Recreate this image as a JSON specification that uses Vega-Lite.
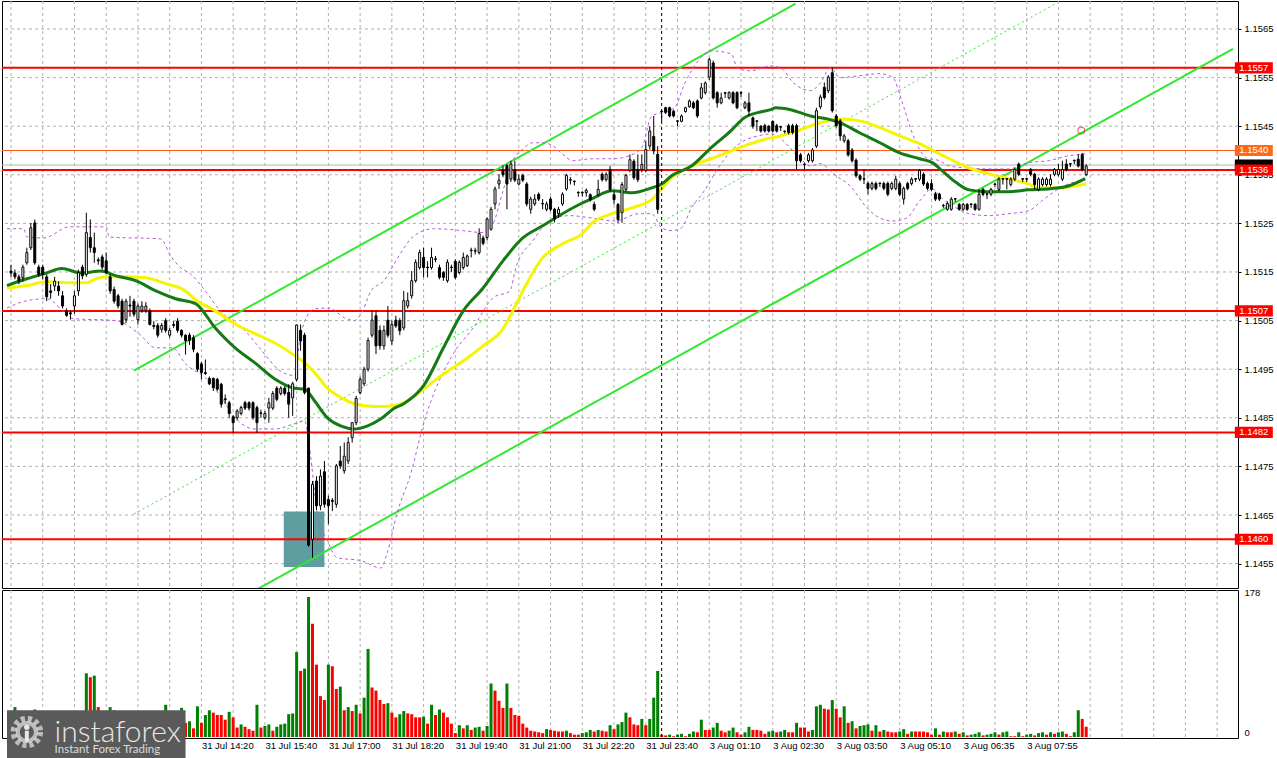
{
  "$schema": "https://vega.github.io/schema/vega-lite/v6.json",
  "padding": 0,
  "spacing": 2,
  "bounds": "flush",
  "background": "white",
  "config": {
    "view": {"stroke": "black", "strokeWidth": 1},
    "font": "Liberation Sans"
  },
  "datasets": {
    "candles": [
      {"i":0,"o":1.15152,"h":1.15165,"l":1.1514,"c":1.15148,"v":30},
      {"i":1,"o":1.15148,"h":1.15155,"l":1.15135,"c":1.1514,"v":38},
      {"i":2,"o":1.1514,"h":1.15145,"l":1.15125,"c":1.15131,"v":18},
      {"i":3,"o":1.15138,"h":1.15165,"l":1.1513,"c":1.1516,"v":22},
      {"i":4,"o":1.15169,"h":1.152,"l":1.15165,"c":1.1519,"v":25},
      {"i":5,"o":1.152,"h":1.15251,"l":1.15195,"c":1.15241,"v":28},
      {"i":6,"o":1.15251,"h":1.15258,"l":1.15165,"c":1.15169,"v":35},
      {"i":7,"o":1.1516,"h":1.15165,"l":1.1514,"c":1.15145,"v":20},
      {"i":8,"o":1.1516,"h":1.15165,"l":1.15135,"c":1.15145,"v":15},
      {"i":9,"o":1.1514,"h":1.15145,"l":1.1509,"c":1.15099,"v":26},
      {"i":10,"o":1.15111,"h":1.15125,"l":1.15095,"c":1.15108,"v":12},
      {"i":11,"o":1.15121,"h":1.1514,"l":1.15111,"c":1.15131,"v":14},
      {"i":12,"o":1.15121,"h":1.15131,"l":1.15101,"c":1.15111,"v":10},
      {"i":13,"o":1.15101,"h":1.15111,"l":1.15075,"c":1.1508,"v":18},
      {"i":14,"o":1.1507,"h":1.15075,"l":1.15058,"c":1.15061,"v":12},
      {"i":15,"o":1.15066,"h":1.1507,"l":1.15052,"c":1.15064,"v":9},
      {"i":16,"o":1.1508,"h":1.15111,"l":1.15064,"c":1.15101,"v":16},
      {"i":17,"o":1.15111,"h":1.15155,"l":1.15101,"c":1.15149,"v":24},
      {"i":18,"o":1.1516,"h":1.15165,"l":1.15135,"c":1.15142,"v":20},
      {"i":19,"o":1.15145,"h":1.15272,"l":1.1514,"c":1.15231,"v":81},
      {"i":20,"o":1.15221,"h":1.15258,"l":1.1519,"c":1.152,"v":76},
      {"i":21,"o":1.152,"h":1.15231,"l":1.15169,"c":1.1519,"v":78},
      {"i":22,"o":1.15175,"h":1.1518,"l":1.15165,"c":1.15173,"v":38},
      {"i":23,"o":1.15181,"h":1.15186,"l":1.15155,"c":1.1516,"v":22},
      {"i":24,"o":1.15173,"h":1.1519,"l":1.15145,"c":1.15149,"v":28},
      {"i":25,"o":1.1514,"h":1.15145,"l":1.15105,"c":1.15111,"v":38},
      {"i":26,"o":1.15114,"h":1.1512,"l":1.15085,"c":1.1509,"v":34},
      {"i":27,"o":1.15101,"h":1.15105,"l":1.15075,"c":1.1508,"v":20},
      {"i":28,"o":1.1509,"h":1.15095,"l":1.1504,"c":1.15042,"v":30},
      {"i":29,"o":1.15052,"h":1.15095,"l":1.15045,"c":1.1509,"v":25},
      {"i":30,"o":1.15082,"h":1.15101,"l":1.15058,"c":1.1508,"v":14},
      {"i":31,"o":1.1509,"h":1.15095,"l":1.15058,"c":1.15063,"v":18},
      {"i":32,"o":1.15052,"h":1.15085,"l":1.15042,"c":1.1508,"v":20},
      {"i":33,"o":1.15071,"h":1.1509,"l":1.15066,"c":1.1508,"v":12},
      {"i":34,"o":1.15071,"h":1.15088,"l":1.15066,"c":1.1508,"v":10},
      {"i":35,"o":1.1507,"h":1.15075,"l":1.1504,"c":1.15042,"v":22},
      {"i":36,"o":1.1504,"h":1.15049,"l":1.15032,"c":1.15038,"v":14},
      {"i":37,"o":1.1504,"h":1.15045,"l":1.15015,"c":1.1502,"v":16},
      {"i":38,"o":1.15032,"h":1.15045,"l":1.15025,"c":1.1504,"v":12},
      {"i":39,"o":1.1505,"h":1.15055,"l":1.15025,"c":1.1503,"v":41},
      {"i":40,"o":1.1502,"h":1.15035,"l":1.15015,"c":1.1503,"v":24},
      {"i":41,"o":1.15042,"h":1.15049,"l":1.15035,"c":1.1504,"v":18},
      {"i":42,"o":1.15049,"h":1.15055,"l":1.15025,"c":1.1503,"v":15},
      {"i":43,"o":1.1503,"h":1.15032,"l":1.15015,"c":1.1502,"v":37},
      {"i":44,"o":1.1502,"h":1.15022,"l":1.1498,"c":1.15009,"v":18},
      {"i":45,"o":1.1502,"h":1.15025,"l":1.15,"c":1.15009,"v":20},
      {"i":46,"o":1.15015,"h":1.1502,"l":1.14985,"c":1.14991,"v":11},
      {"i":47,"o":1.14982,"h":1.14985,"l":1.14945,"c":1.1495,"v":39},
      {"i":48,"o":1.14961,"h":1.14965,"l":1.14929,"c":1.14943,"v":18},
      {"i":49,"o":1.14943,"h":1.1497,"l":1.14938,"c":1.14941,"v":28},
      {"i":50,"o":1.14931,"h":1.14935,"l":1.14917,"c":1.1492,"v":34},
      {"i":51,"o":1.14931,"h":1.14933,"l":1.14905,"c":1.14912,"v":31},
      {"i":52,"o":1.14929,"h":1.14932,"l":1.14905,"c":1.14909,"v":28},
      {"i":53,"o":1.14919,"h":1.14922,"l":1.14871,"c":1.14878,"v":28},
      {"i":54,"o":1.14889,"h":1.14898,"l":1.14878,"c":1.14887,"v":22},
      {"i":55,"o":1.14881,"h":1.14885,"l":1.1485,"c":1.14859,"v":32},
      {"i":56,"o":1.14852,"h":1.14855,"l":1.14819,"c":1.1484,"v":25},
      {"i":57,"o":1.1485,"h":1.14868,"l":1.14845,"c":1.14864,"v":12},
      {"i":58,"o":1.14859,"h":1.14875,"l":1.14855,"c":1.14871,"v":16},
      {"i":59,"o":1.14881,"h":1.14885,"l":1.14866,"c":1.1487,"v":13},
      {"i":60,"o":1.14881,"h":1.14884,"l":1.14865,"c":1.1487,"v":10},
      {"i":61,"o":1.14881,"h":1.14884,"l":1.14846,"c":1.1485,"v":8},
      {"i":62,"o":1.14871,"h":1.14875,"l":1.14819,"c":1.1484,"v":41},
      {"i":63,"o":1.1486,"h":1.14867,"l":1.1485,"c":1.14859,"v":12},
      {"i":64,"o":1.1485,"h":1.14864,"l":1.14846,"c":1.14859,"v":14},
      {"i":65,"o":1.1487,"h":1.14891,"l":1.1484,"c":1.14881,"v":16},
      {"i":66,"o":1.1487,"h":1.14905,"l":1.14866,"c":1.149,"v":8},
      {"i":67,"o":1.14911,"h":1.14915,"l":1.14884,"c":1.14888,"v":13},
      {"i":68,"o":1.149,"h":1.14915,"l":1.14896,"c":1.14911,"v":16},
      {"i":69,"o":1.14911,"h":1.14915,"l":1.14896,"c":1.149,"v":17},
      {"i":70,"o":1.14902,"h":1.14919,"l":1.1485,"c":1.14878,"v":29},
      {"i":71,"o":1.14891,"h":1.14924,"l":1.14854,"c":1.1492,"v":30},
      {"i":72,"o":1.14929,"h":1.15042,"l":1.14925,"c":1.15041,"v":108},
      {"i":73,"o":1.1503,"h":1.15042,"l":1.14988,"c":1.15008,"v":84},
      {"i":74,"o":1.1502,"h":1.15025,"l":1.14898,"c":1.14902,"v":87},
      {"i":75,"o":1.14911,"h":1.14912,"l":1.14585,"c":1.14588,"v":178},
      {"i":76,"o":1.146,"h":1.1472,"l":1.14562,"c":1.14713,"v":144},
      {"i":77,"o":1.1472,"h":1.1473,"l":1.1466,"c":1.14669,"v":92},
      {"i":78,"o":1.14669,"h":1.14744,"l":1.1466,"c":1.1473,"v":52},
      {"i":79,"o":1.14739,"h":1.14761,"l":1.14665,"c":1.14672,"v":47},
      {"i":80,"o":1.14682,"h":1.1469,"l":1.14631,"c":1.14669,"v":92},
      {"i":81,"o":1.1468,"h":1.14685,"l":1.14658,"c":1.14678,"v":90},
      {"i":82,"o":1.14672,"h":1.14755,"l":1.14665,"c":1.14751,"v":61},
      {"i":83,"o":1.14761,"h":1.14792,"l":1.14745,"c":1.14751,"v":64},
      {"i":84,"o":1.14741,"h":1.14799,"l":1.14735,"c":1.14771,"v":34},
      {"i":85,"o":1.14761,"h":1.1481,"l":1.14755,"c":1.14799,"v":38},
      {"i":86,"o":1.14809,"h":1.1484,"l":1.14799,"c":1.1484,"v":33},
      {"i":87,"o":1.1484,"h":1.14895,"l":1.14835,"c":1.1489,"v":41},
      {"i":88,"o":1.14902,"h":1.14935,"l":1.14898,"c":1.14929,"v":30},
      {"i":89,"o":1.1492,"h":1.14955,"l":1.14915,"c":1.1495,"v":50},
      {"i":90,"o":1.1495,"h":1.15015,"l":1.14945,"c":1.15009,"v":112},
      {"i":91,"o":1.1502,"h":1.1507,"l":1.15015,"c":1.15051,"v":63},
      {"i":92,"o":1.1506,"h":1.1507,"l":1.14981,"c":1.14998,"v":59},
      {"i":93,"o":1.1503,"h":1.1504,"l":1.1499,"c":1.14998,"v":47},
      {"i":94,"o":1.14998,"h":1.1504,"l":1.1499,"c":1.1503,"v":42},
      {"i":95,"o":1.15051,"h":1.1508,"l":1.15015,"c":1.1502,"v":43},
      {"i":96,"o":1.15008,"h":1.1505,"l":1.15,"c":1.15042,"v":31},
      {"i":97,"o":1.15051,"h":1.1506,"l":1.15035,"c":1.15039,"v":25},
      {"i":98,"o":1.1505,"h":1.15055,"l":1.1502,"c":1.15029,"v":29},
      {"i":99,"o":1.15035,"h":1.15111,"l":1.1503,"c":1.15091,"v":33},
      {"i":100,"o":1.1508,"h":1.15108,"l":1.15075,"c":1.15091,"v":30},
      {"i":101,"o":1.15101,"h":1.15152,"l":1.15095,"c":1.15132,"v":29},
      {"i":102,"o":1.15132,"h":1.15176,"l":1.15128,"c":1.1517,"v":25},
      {"i":103,"o":1.15159,"h":1.15196,"l":1.15155,"c":1.1519,"v":25},
      {"i":104,"o":1.1518,"h":1.152,"l":1.15139,"c":1.15159,"v":26},
      {"i":105,"o":1.1516,"h":1.15172,"l":1.15139,"c":1.15159,"v":17},
      {"i":106,"o":1.15159,"h":1.152,"l":1.15155,"c":1.1518,"v":41},
      {"i":107,"o":1.15177,"h":1.15183,"l":1.1517,"c":1.15176,"v":28},
      {"i":108,"o":1.15159,"h":1.15165,"l":1.15135,"c":1.15139,"v":35},
      {"i":109,"o":1.15149,"h":1.15152,"l":1.15132,"c":1.15139,"v":31},
      {"i":110,"o":1.15132,"h":1.15176,"l":1.15128,"c":1.1517,"v":25},
      {"i":111,"o":1.1516,"h":1.15165,"l":1.1515,"c":1.15159,"v":17},
      {"i":112,"o":1.15172,"h":1.15176,"l":1.15135,"c":1.15139,"v":5},
      {"i":113,"o":1.15149,"h":1.15174,"l":1.15145,"c":1.1517,"v":15},
      {"i":114,"o":1.15159,"h":1.1519,"l":1.15155,"c":1.1518,"v":11},
      {"i":115,"o":1.15163,"h":1.15186,"l":1.1516,"c":1.15183,"v":15},
      {"i":116,"o":1.15195,"h":1.152,"l":1.1518,"c":1.15194,"v":9},
      {"i":117,"o":1.15194,"h":1.152,"l":1.15186,"c":1.15193,"v":12},
      {"i":118,"o":1.1519,"h":1.1524,"l":1.15186,"c":1.15229,"v":13},
      {"i":119,"o":1.1522,"h":1.15225,"l":1.15205,"c":1.15209,"v":8},
      {"i":120,"o":1.15221,"h":1.15262,"l":1.15215,"c":1.15259,"v":14},
      {"i":121,"o":1.15238,"h":1.15284,"l":1.15235,"c":1.15279,"v":68},
      {"i":122,"o":1.1529,"h":1.15326,"l":1.15279,"c":1.15321,"v":59},
      {"i":123,"o":1.15331,"h":1.15351,"l":1.15321,"c":1.15339,"v":46},
      {"i":124,"o":1.1536,"h":1.15369,"l":1.15345,"c":1.1535,"v":37},
      {"i":125,"o":1.15369,"h":1.15372,"l":1.15279,"c":1.15331,"v":68},
      {"i":126,"o":1.15341,"h":1.15379,"l":1.15335,"c":1.15372,"v":37},
      {"i":127,"o":1.1536,"h":1.15379,"l":1.15335,"c":1.15339,"v":28},
      {"i":128,"o":1.15331,"h":1.15351,"l":1.15328,"c":1.15341,"v":27},
      {"i":129,"o":1.15349,"h":1.15352,"l":1.15335,"c":1.15339,"v":17},
      {"i":130,"o":1.15331,"h":1.15335,"l":1.15285,"c":1.1529,"v":12},
      {"i":131,"o":1.15279,"h":1.15305,"l":1.1527,"c":1.153,"v":8},
      {"i":132,"o":1.1529,"h":1.1531,"l":1.15286,"c":1.153,"v":7},
      {"i":133,"o":1.1531,"h":1.15314,"l":1.15296,"c":1.153,"v":6},
      {"i":134,"o":1.15291,"h":1.153,"l":1.15279,"c":1.1529,"v":5},
      {"i":135,"o":1.15279,"h":1.15295,"l":1.15275,"c":1.1529,"v":10},
      {"i":136,"o":1.153,"h":1.15305,"l":1.15275,"c":1.15279,"v":9},
      {"i":137,"o":1.15279,"h":1.15282,"l":1.15252,"c":1.15259,"v":8},
      {"i":138,"o":1.1527,"h":1.15284,"l":1.15262,"c":1.15279,"v":7},
      {"i":139,"o":1.1529,"h":1.15314,"l":1.15286,"c":1.1531,"v":7},
      {"i":140,"o":1.15321,"h":1.15352,"l":1.15317,"c":1.15349,"v":8},
      {"i":141,"o":1.1534,"h":1.15345,"l":1.1533,"c":1.15339,"v":5},
      {"i":142,"o":1.15337,"h":1.15338,"l":1.15328,"c":1.15336,"v":3},
      {"i":143,"o":1.15314,"h":1.15316,"l":1.15305,"c":1.15313,"v":3},
      {"i":144,"o":1.15314,"h":1.15316,"l":1.15305,"c":1.15313,"v":5},
      {"i":145,"o":1.15313,"h":1.15322,"l":1.15305,"c":1.15318,"v":6},
      {"i":146,"o":1.15309,"h":1.15312,"l":1.15295,"c":1.15299,"v":9},
      {"i":147,"o":1.15289,"h":1.15295,"l":1.15275,"c":1.15279,"v":7},
      {"i":148,"o":1.15309,"h":1.1534,"l":1.15305,"c":1.1532,"v":9},
      {"i":149,"o":1.15351,"h":1.15355,"l":1.15336,"c":1.1534,"v":8},
      {"i":150,"o":1.1534,"h":1.15355,"l":1.15336,"c":1.15351,"v":7},
      {"i":151,"o":1.15361,"h":1.15368,"l":1.15315,"c":1.1532,"v":15},
      {"i":152,"o":1.15309,"h":1.15316,"l":1.15289,"c":1.15299,"v":10},
      {"i":153,"o":1.15289,"h":1.15292,"l":1.15251,"c":1.15258,"v":16},
      {"i":154,"o":1.15272,"h":1.15335,"l":1.15251,"c":1.1533,"v":19},
      {"i":155,"o":1.1532,"h":1.15352,"l":1.15315,"c":1.15349,"v":31},
      {"i":156,"o":1.15359,"h":1.15392,"l":1.15355,"c":1.15381,"v":25},
      {"i":157,"o":1.15378,"h":1.15382,"l":1.1534,"c":1.15344,"v":16},
      {"i":158,"o":1.15361,"h":1.15392,"l":1.15335,"c":1.1534,"v":15},
      {"i":159,"o":1.15361,"h":1.15392,"l":1.15355,"c":1.15371,"v":23},
      {"i":160,"o":1.15359,"h":1.15419,"l":1.15355,"c":1.15402,"v":15},
      {"i":161,"o":1.15409,"h":1.1545,"l":1.15402,"c":1.1544,"v":23},
      {"i":162,"o":1.15429,"h":1.15471,"l":1.15392,"c":1.15399,"v":50},
      {"i":163,"o":1.15392,"h":1.15409,"l":1.1527,"c":1.15279,"v":84},
      {"i":164,"o":1.15481,"h":1.15482,"l":1.1546,"c":1.1548,"v":3},
      {"i":165,"o":1.15488,"h":1.1549,"l":1.15475,"c":1.15478,"v":2},
      {"i":166,"o":1.15488,"h":1.1549,"l":1.15468,"c":1.15471,"v":3},
      {"i":167,"o":1.15481,"h":1.15484,"l":1.15468,"c":1.15471,"v":1},
      {"i":168,"o":1.15461,"h":1.15462,"l":1.1545,"c":1.1546,"v":3},
      {"i":169,"o":1.1546,"h":1.15474,"l":1.15458,"c":1.15471,"v":4},
      {"i":170,"o":1.1548,"h":1.1549,"l":1.15478,"c":1.15488,"v":1},
      {"i":171,"o":1.1549,"h":1.15505,"l":1.15488,"c":1.15502,"v":4},
      {"i":172,"o":1.15498,"h":1.15502,"l":1.15485,"c":1.15488,"v":7},
      {"i":173,"o":1.15502,"h":1.15505,"l":1.15467,"c":1.15471,"v":6},
      {"i":174,"o":1.15508,"h":1.15539,"l":1.15505,"c":1.15529,"v":22},
      {"i":175,"o":1.15519,"h":1.15542,"l":1.15515,"c":1.15539,"v":9},
      {"i":176,"o":1.15551,"h":1.15591,"l":1.15545,"c":1.15587,"v":9},
      {"i":177,"o":1.1558,"h":1.15585,"l":1.15505,"c":1.15508,"v":12},
      {"i":178,"o":1.15519,"h":1.15522,"l":1.15488,"c":1.15498,"v":18},
      {"i":179,"o":1.15498,"h":1.15519,"l":1.15495,"c":1.15508,"v":8},
      {"i":180,"o":1.15519,"h":1.1552,"l":1.15508,"c":1.15518,"v":6},
      {"i":181,"o":1.15508,"h":1.15522,"l":1.15505,"c":1.15519,"v":8},
      {"i":182,"o":1.15519,"h":1.15522,"l":1.15495,"c":1.15498,"v":12},
      {"i":183,"o":1.15519,"h":1.15522,"l":1.15485,"c":1.15488,"v":6},
      {"i":184,"o":1.15519,"h":1.15522,"l":1.1551,"c":1.15518,"v":3},
      {"i":185,"o":1.15488,"h":1.15502,"l":1.15485,"c":1.15498,"v":6},
      {"i":186,"o":1.15498,"h":1.15519,"l":1.15471,"c":1.15481,"v":13},
      {"i":187,"o":1.15467,"h":1.1547,"l":1.15445,"c":1.1545,"v":9},
      {"i":188,"o":1.15461,"h":1.15462,"l":1.1544,"c":1.1546,"v":9},
      {"i":189,"o":1.1545,"h":1.15452,"l":1.15437,"c":1.1544,"v":8},
      {"i":190,"o":1.15451,"h":1.15455,"l":1.15437,"c":1.1544,"v":4},
      {"i":191,"o":1.1545,"h":1.15452,"l":1.15437,"c":1.1544,"v":7},
      {"i":192,"o":1.1546,"h":1.15462,"l":1.15437,"c":1.1544,"v":8},
      {"i":193,"o":1.15451,"h":1.15455,"l":1.15437,"c":1.1544,"v":6},
      {"i":194,"o":1.15449,"h":1.1545,"l":1.1544,"c":1.15448,"v":7},
      {"i":195,"o":1.1544,"h":1.15441,"l":1.15435,"c":1.15439,"v":9},
      {"i":196,"o":1.15451,"h":1.15455,"l":1.15433,"c":1.15437,"v":6},
      {"i":197,"o":1.15451,"h":1.15455,"l":1.15433,"c":1.15437,"v":6},
      {"i":198,"o":1.15451,"h":1.15455,"l":1.15361,"c":1.15379,"v":18},
      {"i":199,"o":1.15391,"h":1.15395,"l":1.15375,"c":1.15379,"v":12},
      {"i":200,"o":1.15372,"h":1.15374,"l":1.15361,"c":1.15371,"v":12},
      {"i":201,"o":1.15379,"h":1.15395,"l":1.15375,"c":1.15391,"v":7},
      {"i":202,"o":1.15379,"h":1.15405,"l":1.15375,"c":1.15401,"v":9},
      {"i":203,"o":1.15409,"h":1.15488,"l":1.15405,"c":1.15482,"v":39},
      {"i":204,"o":1.1549,"h":1.15515,"l":1.15485,"c":1.1551,"v":41},
      {"i":205,"o":1.1553,"h":1.1554,"l":1.15505,"c":1.15509,"v":36},
      {"i":206,"o":1.15523,"h":1.15555,"l":1.15518,"c":1.15551,"v":35},
      {"i":207,"o":1.1556,"h":1.15571,"l":1.15478,"c":1.15482,"v":47},
      {"i":208,"o":1.15471,"h":1.15475,"l":1.15447,"c":1.15451,"v":36},
      {"i":209,"o":1.15461,"h":1.15465,"l":1.1542,"c":1.1543,"v":25},
      {"i":210,"o":1.1542,"h":1.15434,"l":1.15416,"c":1.1543,"v":39},
      {"i":211,"o":1.1542,"h":1.15424,"l":1.15387,"c":1.15391,"v":18},
      {"i":212,"o":1.15401,"h":1.15405,"l":1.15375,"c":1.15379,"v":20},
      {"i":213,"o":1.1538,"h":1.15384,"l":1.15344,"c":1.15348,"v":11},
      {"i":214,"o":1.15348,"h":1.15351,"l":1.15337,"c":1.15341,"v":14},
      {"i":215,"o":1.15342,"h":1.15361,"l":1.15331,"c":1.15341,"v":15},
      {"i":216,"o":1.15332,"h":1.15336,"l":1.1531,"c":1.15322,"v":16},
      {"i":217,"o":1.15322,"h":1.15336,"l":1.15318,"c":1.15332,"v":8},
      {"i":218,"o":1.15332,"h":1.15336,"l":1.15318,"c":1.15322,"v":15},
      {"i":219,"o":1.15333,"h":1.15334,"l":1.15325,"c":1.15332,"v":7},
      {"i":220,"o":1.15332,"h":1.15336,"l":1.15318,"c":1.15322,"v":9},
      {"i":221,"o":1.15332,"h":1.15336,"l":1.15306,"c":1.1531,"v":7},
      {"i":222,"o":1.15322,"h":1.15336,"l":1.15318,"c":1.15332,"v":6},
      {"i":223,"o":1.15322,"h":1.15348,"l":1.15318,"c":1.15341,"v":6},
      {"i":224,"o":1.15332,"h":1.15336,"l":1.15306,"c":1.1531,"v":7},
      {"i":225,"o":1.153,"h":1.15326,"l":1.15289,"c":1.15322,"v":10},
      {"i":226,"o":1.15332,"h":1.15336,"l":1.15318,"c":1.15322,"v":4},
      {"i":227,"o":1.15332,"h":1.15345,"l":1.15328,"c":1.15341,"v":7},
      {"i":228,"o":1.15342,"h":1.15343,"l":1.15335,"c":1.15341,"v":7},
      {"i":229,"o":1.15341,"h":1.15362,"l":1.15337,"c":1.15359,"v":7},
      {"i":230,"o":1.15351,"h":1.15355,"l":1.15327,"c":1.15331,"v":7},
      {"i":231,"o":1.15332,"h":1.15336,"l":1.15318,"c":1.15322,"v":6},
      {"i":232,"o":1.15332,"h":1.15341,"l":1.15316,"c":1.1532,"v":3},
      {"i":233,"o":1.15311,"h":1.15315,"l":1.15296,"c":1.153,"v":11},
      {"i":234,"o":1.1531,"h":1.15313,"l":1.15296,"c":1.153,"v":3},
      {"i":235,"o":1.15287,"h":1.1529,"l":1.15282,"c":1.15286,"v":7},
      {"i":236,"o":1.15279,"h":1.15295,"l":1.15276,"c":1.15291,"v":6},
      {"i":237,"o":1.15279,"h":1.15304,"l":1.15276,"c":1.153,"v":6},
      {"i":238,"o":1.15301,"h":1.15302,"l":1.15294,"c":1.153,"v":7},
      {"i":239,"o":1.15289,"h":1.15292,"l":1.15276,"c":1.15279,"v":4},
      {"i":240,"o":1.15279,"h":1.15292,"l":1.15276,"c":1.15289,"v":6},
      {"i":241,"o":1.15289,"h":1.15292,"l":1.15276,"c":1.15279,"v":2},
      {"i":242,"o":1.1529,"h":1.15291,"l":1.15282,"c":1.15289,"v":3},
      {"i":243,"o":1.15289,"h":1.15292,"l":1.15276,"c":1.15279,"v":4},
      {"i":244,"o":1.15279,"h":1.1532,"l":1.15276,"c":1.1531,"v":6},
      {"i":245,"o":1.1532,"h":1.15323,"l":1.15306,"c":1.1531,"v":2},
      {"i":246,"o":1.15311,"h":1.15312,"l":1.153,"c":1.1531,"v":3},
      {"i":247,"o":1.1531,"h":1.15323,"l":1.15306,"c":1.1532,"v":4},
      {"i":248,"o":1.15331,"h":1.15333,"l":1.15325,"c":1.1533,"v":6},
      {"i":249,"o":1.1532,"h":1.15345,"l":1.15316,"c":1.15341,"v":3},
      {"i":250,"o":1.15342,"h":1.15343,"l":1.1533,"c":1.15341,"v":6},
      {"i":251,"o":1.15342,"h":1.15343,"l":1.1532,"c":1.15341,"v":7},
      {"i":252,"o":1.1533,"h":1.15345,"l":1.15326,"c":1.15341,"v":1},
      {"i":253,"o":1.15341,"h":1.15365,"l":1.15337,"c":1.15361,"v":1},
      {"i":254,"o":1.15372,"h":1.15375,"l":1.15347,"c":1.15351,"v":6},
      {"i":255,"o":1.15342,"h":1.15343,"l":1.15335,"c":1.15341,"v":1},
      {"i":256,"o":1.15342,"h":1.15343,"l":1.15335,"c":1.15341,"v":3},
      {"i":257,"o":1.15361,"h":1.15364,"l":1.15347,"c":1.15351,"v":4},
      {"i":258,"o":1.15351,"h":1.15354,"l":1.1532,"c":1.1533,"v":2},
      {"i":259,"o":1.1532,"h":1.15345,"l":1.15316,"c":1.15341,"v":5},
      {"i":260,"o":1.1533,"h":1.15345,"l":1.15326,"c":1.15341,"v":6},
      {"i":261,"o":1.1533,"h":1.15345,"l":1.15326,"c":1.15341,"v":3},
      {"i":262,"o":1.1533,"h":1.15351,"l":1.15326,"c":1.15341,"v":6},
      {"i":263,"o":1.15351,"h":1.15364,"l":1.15347,"c":1.15361,"v":4},
      {"i":264,"o":1.15351,"h":1.15372,"l":1.15347,"c":1.15361,"v":6},
      {"i":265,"o":1.15341,"h":1.15379,"l":1.15337,"c":1.15361,"v":7},
      {"i":266,"o":1.15372,"h":1.15382,"l":1.15357,"c":1.15361,"v":4},
      {"i":267,"o":1.15373,"h":1.15374,"l":1.15366,"c":1.15372,"v":1},
      {"i":268,"o":1.1538,"h":1.15381,"l":1.15372,"c":1.15379,"v":6},
      {"i":269,"o":1.15382,"h":1.15392,"l":1.15365,"c":1.15368,"v":34},
      {"i":270,"o":1.15392,"h":1.15395,"l":1.15357,"c":1.15361,"v":23},
      {"i":271,"o":1.1535,"h":1.15372,"l":1.15347,"c":1.15368,"v":13}
    ],
    "maG": [
      {"i":-1,"p":1.15122},{"i":4,"p":1.15136},{"i":9,"p":1.15148},{"i":12.75,"p":1.15157},{"i":17.75,"p":1.15148},
      {"i":22.75,"p":1.15152},{"i":26.5,"p":1.15142},{"i":31.5,"p":1.15132},{"i":36.5,"p":1.15111},{"i":41.5,"p":1.15095},
      {"i":46.5,"p":1.15085},{"i":51.5,"p":1.15035},{"i":56.5,"p":1.14994},{"i":61.5,"p":1.14963},{"i":66.5,"p":1.1493},
      {"i":71.5,"p":1.14911},{"i":74,"p":1.14909},{"i":76.5,"p":1.14885},{"i":79.75,"p":1.1485},{"i":83.25,"p":1.14833},
      {"i":86.5,"p":1.14827},{"i":89.75,"p":1.14833},{"i":93.25,"p":1.14848},{"i":96.5,"p":1.14869},{"i":99,"p":1.14879},
      {"i":104,"p":1.14916},{"i":109,"p":1.14994},{"i":114,"p":1.1507},{"i":119,"p":1.15117},{"i":124,"p":1.15173},
      {"i":129,"p":1.1522},{"i":134,"p":1.15245},{"i":139,"p":1.1527},{"i":144,"p":1.15292},{"i":146.5,"p":1.15301},
      {"i":151.5,"p":1.15317},{"i":156.5,"p":1.15313},{"i":161.5,"p":1.15323},{"i":164,"p":1.15331},{"i":166.5,"p":1.15348},
      {"i":171.5,"p":1.15368},{"i":176.5,"p":1.15406},{"i":181.5,"p":1.15441},{"i":184.75,"p":1.15467},{"i":188.25,"p":1.15478},
      {"i":191.5,"p":1.15484},{"i":192.75,"p":1.15488},{"i":196.5,"p":1.15484},{"i":201.5,"p":1.15471},{"i":205.75,"p":1.15465},
      {"i":209,"p":1.15457},{"i":214,"p":1.15436},{"i":219,"p":1.15416},{"i":224,"p":1.15395},{"i":229,"p":1.15383},
      {"i":232.25,"p":1.15375},{"i":234.75,"p":1.15358},{"i":238.25,"p":1.15334},{"i":241.5,"p":1.15319},{"i":246.5,"p":1.15315},
      {"i":251.5,"p":1.15315},{"i":256.5,"p":1.15319},{"i":261.5,"p":1.15321},{"i":266.5,"p":1.15327},{"i":270.75,"p":1.15342}
    ],
    "maY": [
      {"i":-1,"p":1.15117},{"i":4,"p":1.15122},{"i":9,"p":1.1513},{"i":14,"p":1.15128},{"i":19,"p":1.15128},
      {"i":21.5,"p":1.15136},{"i":24,"p":1.1514},{"i":29,"p":1.1514},{"i":34,"p":1.15138},{"i":39,"p":1.15126},
      {"i":44,"p":1.15111},{"i":46.5,"p":1.15093},{"i":51.5,"p":1.1507},{"i":56.5,"p":1.15043},{"i":61.5,"p":1.15023},
      {"i":66.5,"p":1.15004},{"i":71.5,"p":1.14978},{"i":74,"p":1.14963},{"i":76.5,"p":1.14943},{"i":79.75,"p":1.14911},
      {"i":83.25,"p":1.14891},{"i":86.5,"p":1.14879},{"i":91.5,"p":1.14873},{"i":96.5,"p":1.14875},{"i":99,"p":1.14881},
      {"i":104,"p":1.14909},{"i":109,"p":1.1494},{"i":114,"p":1.14967},{"i":119,"p":1.14998},{"i":124,"p":1.15033},
      {"i":126.5,"p":1.1507},{"i":129,"p":1.15111},{"i":134,"p":1.15179},{"i":139,"p":1.15208},{"i":144,"p":1.15229},
      {"i":146.5,"p":1.15251},{"i":151.5,"p":1.1527},{"i":156.5,"p":1.15282},{"i":161.5,"p":1.15299},{"i":166.5,"p":1.15344},
      {"i":171.5,"p":1.15368},{"i":176.5,"p":1.15383},{"i":181.5,"p":1.15399},{"i":186.5,"p":1.15414},{"i":191.5,"p":1.15426},
      {"i":194,"p":1.1543},{"i":199,"p":1.15443},{"i":204,"p":1.15457},{"i":209,"p":1.15465},{"i":214,"p":1.15461},
      {"i":219,"p":1.15447},{"i":224,"p":1.1543},{"i":229,"p":1.15414},{"i":234,"p":1.15393},{"i":236.5,"p":1.15383},
      {"i":241.5,"p":1.15364},{"i":246.5,"p":1.15352},{"i":251.5,"p":1.15342},{"i":256.5,"p":1.15331},{"i":259,"p":1.15323},
      {"i":261.5,"p":1.15323},{"i":266.5,"p":1.15325},{"i":271,"p":1.15331}
    ],
    "bbU": [
      {"i":-1,"p":1.15239},{"i":3.25,"p":1.15239},{"i":4,"p":1.15222},{"i":8.25,"p":1.1522},{"i":14.75,"p":1.15243},
      {"i":24,"p":1.15243},{"i":24.75,"p":1.15222},{"i":37.75,"p":1.15218},{"i":40.25,"p":1.15183},{"i":42.75,"p":1.15159},
      {"i":45.25,"p":1.15146},{"i":49,"p":1.15111},{"i":52.75,"p":1.1507},{"i":59,"p":1.15029},{"i":63.25,"p":1.14988},
      {"i":67.75,"p":1.14947},{"i":71.5,"p":1.14937},{"i":72.75,"p":1.15008},{"i":74,"p":1.15048},{"i":76.5,"p":1.15074},
      {"i":80.25,"p":1.15076},{"i":84,"p":1.15056},{"i":86.5,"p":1.1505},{"i":88.25,"p":1.15064},{"i":90.75,"p":1.15111},
      {"i":94,"p":1.15132},{"i":97.75,"p":1.15183},{"i":101.5,"p":1.15224},{"i":106.5,"p":1.15239},{"i":114,"p":1.15235},
      {"i":119,"p":1.15231},{"i":121.5,"p":1.15249},{"i":124,"p":1.15317},{"i":126.5,"p":1.15379},{"i":129,"p":1.15403},
      {"i":131.5,"p":1.15416},{"i":134,"p":1.15416},{"i":136.5,"p":1.1541},{"i":139,"p":1.15393},{"i":141.5,"p":1.15379},
      {"i":146.5,"p":1.15383},{"i":151.5,"p":1.15383},{"i":155.75,"p":1.15389},{"i":159,"p":1.15406},{"i":161.5,"p":1.15471},
      {"i":164,"p":1.15478},{"i":167.25,"p":1.15488},{"i":169.75,"p":1.15537},{"i":173.25,"p":1.15585},{"i":176.5,"p":1.15605},
      {"i":181.5,"p":1.15599},{"i":183.25,"p":1.15568},{"i":186.5,"p":1.15564},{"i":191.5,"p":1.15574},{"i":194,"p":1.1557},
      {"i":197.25,"p":1.15539},{"i":201.5,"p":1.15523},{"i":204,"p":1.15539},{"i":206.5,"p":1.1557},{"i":209,"p":1.1555},
      {"i":214,"p":1.15554},{"i":219,"p":1.15558},{"i":222.25,"p":1.1555},{"i":224.75,"p":1.15496},{"i":227.25,"p":1.15434},
      {"i":230.75,"p":1.15385},{"i":234,"p":1.15379},{"i":236.5,"p":1.15368},{"i":241.5,"p":1.15364},{"i":246.5,"p":1.15362},
      {"i":251.5,"p":1.15362},{"i":256.5,"p":1.15375},{"i":261.5,"p":1.15379},{"i":266.5,"p":1.15389},{"i":270.75,"p":1.15393}
    ],
    "bbL": [
      {"i":-1,"p":1.15076},{"i":4,"p":1.15091},{"i":9,"p":1.15095},{"i":15.75,"p":1.15054},{"i":26.5,"p":1.1505},
      {"i":32.25,"p":1.15023},{"i":36.5,"p":1.14994},{"i":40.75,"p":1.14994},{"i":44,"p":1.14961},{"i":49,"p":1.14932},
      {"i":52.75,"p":1.14895},{"i":56.5,"p":1.1485},{"i":61.5,"p":1.14827},{"i":66.5,"p":1.14827},{"i":71.5,"p":1.14838},
      {"i":74,"p":1.14844},{"i":75.25,"p":1.14788},{"i":77.25,"p":1.14652},{"i":79.75,"p":1.14597},{"i":82.25,"p":1.14562},
      {"i":88.25,"p":1.14556},{"i":93.25,"p":1.14541},{"i":94.75,"p":1.1457},{"i":97.25,"p":1.14652},{"i":100.75,"p":1.14735},
      {"i":104,"p":1.14838},{"i":111.5,"p":1.14982},{"i":116.5,"p":1.15035},{"i":121.5,"p":1.15097},{"i":125.75,"p":1.15111},
      {"i":127.25,"p":1.15159},{"i":131.5,"p":1.15214},{"i":135.75,"p":1.15255},{"i":140.75,"p":1.15266},{"i":146.5,"p":1.15261},
      {"i":152.25,"p":1.15255},{"i":158.25,"p":1.1527},{"i":161.5,"p":1.1527},{"i":164,"p":1.15241},{"i":166.5,"p":1.15235},
      {"i":169,"p":1.15241},{"i":171.5,"p":1.15282},{"i":174.75,"p":1.15317},{"i":178.25,"p":1.15364},{"i":181.5,"p":1.15399},
      {"i":184.75,"p":1.1542},{"i":188.25,"p":1.1543},{"i":191.5,"p":1.15434},{"i":194,"p":1.15424},{"i":199,"p":1.15383},
      {"i":201.5,"p":1.15368},{"i":204,"p":1.15373},{"i":207.25,"p":1.15352},{"i":211.5,"p":1.15327},{"i":215.75,"p":1.15282},
      {"i":219,"p":1.15261},{"i":222.25,"p":1.15255},{"i":225.75,"p":1.15261},{"i":229,"p":1.15296},{"i":232.25,"p":1.15321},
      {"i":234.75,"p":1.15301},{"i":238.25,"p":1.15282},{"i":241.5,"p":1.1527},{"i":246.5,"p":1.15266},{"i":251.5,"p":1.1527},
      {"i":256.5,"p":1.15276},{"i":259.75,"p":1.15296},{"i":263.25,"p":1.15317},{"i":266.5,"p":1.15331},{"i":269.75,"p":1.15338}
    ],
    "channel": [
      {"s":"up","i":31,"p":1.14947},{"s":"up","i":197.75,"p":1.15702},
      {"s":"low","i":62.25,"p":1.14498},{"s":"low","i":308,"p":1.15609},
      {"s":"mid","i":31,"p":1.14652},{"s":"mid","i":263.25,"p":1.15702}
    ],
    "levels": [
      {"p":1.1537,"kind":"bid","t":"1.1537"},
      {"p":1.154,"kind":"alert","t":"1.1540"},
      {"p":1.1557,"kind":"level","t":"1.1557"},
      {"p":1.1536,"kind":"level","t":"1.1536"},
      {"p":1.1507,"kind":"level","t":"1.1507"},
      {"p":1.1482,"kind":"level","t":"1.1482"},
      {"p":1.146,"kind":"level","t":"1.1460"}
    ],
    "gridX": [
      {"g":0},{"g":8},{"g":16},{"g":24},{"g":32},{"g":40},{"g":48},{"g":56},{"g":64},{"g":72},
      {"g":80},{"g":88},{"g":96},{"g":104},{"g":112},{"g":120},{"g":128},{"g":136},{"g":144},{"g":152},
      {"g":160},{"g":168},{"g":176},{"g":184},{"g":192},{"g":200},{"g":208},{"g":216},{"g":224},{"g":232},
      {"g":240},{"g":248},{"g":256},{"g":264},{"g":272},{"g":280},{"g":288},{"g":296},{"g":304}
    ],
    "gridY": [
      {"g":1.1455},{"g":1.1465},{"g":1.1475},{"g":1.1485},{"g":1.1495},{"g":1.1505},
      {"g":1.1515},{"g":1.1525},{"g":1.1535},{"g":1.1545},{"g":1.1555},{"g":1.1565}
    ],
    "zone": [{"i0":68.75,"i1":79,"p0":1.14657,"p1":1.14543}],
    "alertMark": [{"i":269.75,"p":1.15441}],
    "separator": [{"i":164}]
  },
  "vconcat": [
    {
      "width": 1236,
      "height": 587,
      "layer": [
        {
          "data": {"name": "gridX"},
          "mark": {"type": "rule", "color": "#b0b0b0", "strokeWidth": 1, "strokeDash": [3,3]},
          "encoding": {
            "x": {"field": "g", "type": "quantitative",
              "scale": {"domain": [-1, 308], "nice": false, "zero": false},
              "axis": null}
          }
        },
        {
          "data": {"name": "gridY"},
          "mark": {"type": "rule", "color": "#b0b0b0", "strokeWidth": 1, "strokeDash": [3,3]},
          "encoding": {
            "y": {"field": "g", "type": "quantitative",
              "scale": {"domain": [1.144998, 1.157076], "nice": false, "zero": false},
              "axis": {"orient": "right", "values": [1.1455,1.1465,1.1475,1.1485,1.1495,1.1505,1.1515,1.1525,1.1535,1.1545,1.1555,1.1565],
                "format": ".4f", "grid": false, "domain": false, "ticks": true, "tickSize": 3, "tickColor": "black",
                "labelFont": "Liberation Sans", "labelFontSize": 9.5, "labelColor": "black", "labelPadding": 3, "title": null}}
          }
        },
        {
          "data": {"name": "zone"},
          "mark": {"type": "rect", "color": "#5f9ea0"},
          "encoding": {
            "x": {"field": "i0", "type": "quantitative", "axis": null},
            "x2": {"field": "i1"},
            "y": {"field": "p0", "type": "quantitative"},
            "y2": {"field": "p1"}
          }
        },
        {
          "data": {"name": "levels"},
          "transform": [{"filter": "datum.kind == 'level'"}],
          "mark": {"type": "rule", "color": "#ff0000", "strokeWidth": 2},
          "encoding": {"y": {"field": "p", "type": "quantitative"}}
        },
        {
          "data": {"name": "levels"},
          "transform": [{"filter": "datum.kind == 'alert'"}],
          "mark": {"type": "rule", "color": "#ff5a1a", "strokeWidth": 1},
          "encoding": {"y": {"field": "p", "type": "quantitative"}}
        },
        {
          "data": {"name": "levels"},
          "transform": [{"filter": "datum.kind == 'bid'"}],
          "mark": {"type": "rule", "color": "#b4b4b4", "strokeWidth": 1},
          "encoding": {"y": {"field": "p", "type": "quantitative"}}
        },
        {
          "data": {"name": "channel"},
          "transform": [{"filter": "datum.s != 'mid'"}],
          "mark": {"type": "line", "color": "#2fe82f", "strokeWidth": 2, "clip": true},
          "encoding": {
            "x": {"field": "i", "type": "quantitative", "axis": null},
            "y": {"field": "p", "type": "quantitative"},
            "detail": {"field": "s"}
          }
        },
        {
          "data": {"name": "channel"},
          "transform": [{"filter": "datum.s == 'mid'"}],
          "mark": {"type": "line", "color": "#2fe82f", "strokeWidth": 1, "strokeDash": [2,3], "clip": true},
          "encoding": {
            "x": {"field": "i", "type": "quantitative", "axis": null},
            "y": {"field": "p", "type": "quantitative"}
          }
        },
        {
          "data": {"name": "bbU"},
          "mark": {"type": "line", "color": "#b45ad8", "strokeWidth": 1, "strokeDash": [3,3], "interpolate": "monotone", "clip": true},
          "encoding": {
            "x": {"field": "i", "type": "quantitative", "axis": null},
            "y": {"field": "p", "type": "quantitative"}
          }
        },
        {
          "data": {"name": "bbL"},
          "mark": {"type": "line", "color": "#b45ad8", "strokeWidth": 1, "strokeDash": [3,3], "interpolate": "monotone", "clip": true},
          "encoding": {
            "x": {"field": "i", "type": "quantitative", "axis": null},
            "y": {"field": "p", "type": "quantitative"}
          }
        },
        {
          "data": {"name": "maY"},
          "mark": {"type": "line", "color": "#f5f500", "strokeWidth": 3, "interpolate": "monotone", "clip": true},
          "encoding": {
            "x": {"field": "i", "type": "quantitative", "axis": null},
            "y": {"field": "p", "type": "quantitative"}
          }
        },
        {
          "data": {"name": "maG"},
          "mark": {"type": "line", "color": "#157a15", "strokeWidth": 3, "interpolate": "monotone", "clip": true},
          "encoding": {
            "x": {"field": "i", "type": "quantitative", "axis": null},
            "y": {"field": "p", "type": "quantitative"}
          }
        },
        {
          "data": {"name": "separator"},
          "mark": {"type": "rule", "color": "black", "strokeWidth": 1, "strokeDash": [3,3]},
          "encoding": {"x": {"field": "i", "type": "quantitative", "axis": null}}
        },
        {
          "data": {"name": "candles"},
          "mark": {"type": "rule", "color": "black", "strokeWidth": 1},
          "encoding": {
            "x": {"field": "i", "type": "quantitative", "axis": null},
            "y": {"field": "l", "type": "quantitative"},
            "y2": {"field": "h"}
          }
        },
        {
          "data": {"name": "candles"},
          "mark": {"type": "bar", "size": 2, "stroke": "black", "strokeWidth": 1, "orient": "vertical"},
          "encoding": {
            "x": {"field": "i", "type": "quantitative", "axis": null},
            "y": {"field": "o", "type": "quantitative"},
            "y2": {"field": "c"},
            "fill": {"condition": {"test": "datum.c > datum.o", "value": "white"}, "value": "black"}
          }
        },
        {
          "data": {"name": "alertMark"},
          "mark": {"type": "point", "shape": "circle", "filled": false, "color": "#ff2a2a", "size": 45, "strokeWidth": 1.2},
          "encoding": {
            "x": {"field": "i", "type": "quantitative", "axis": null},
            "y": {"field": "p", "type": "quantitative"}
          }
        },
        {
          "data": {"name": "levels"},
          "mark": {"type": "point", "shape": "M-1,-0.29L1,-0.29L1,0.29L-1,0.29Z", "filled": true, "size": 1444, "opacity": 1, "strokeWidth": 0},
          "encoding": {
            "x": {"datum": 313.25, "type": "quantitative", "axis": null},
            "y": {"field": "p", "type": "quantitative"},
            "fill": {"field": "kind", "type": "nominal", "legend": null,
              "scale": {"domain": ["bid", "alert", "level"], "range": ["#000000", "#ff6a1a", "#ff0000"]}}
          }
        },
        {
          "data": {"name": "levels"},
          "transform": [{"filter": "datum.kind != 'bid'"}],
          "mark": {"type": "text", "color": "white", "font": "Liberation Sans", "fontSize": 9.5, "align": "center", "baseline": "middle"},
          "encoding": {
            "x": {"datum": 313.25, "type": "quantitative", "axis": null},
            "y": {"field": "p", "type": "quantitative"},
            "text": {"field": "t"}
          }
        }
      ]
    },
    {
      "width": 1236,
      "height": 148,
      "layer": [
        {
          "data": {"name": "gridX"},
          "mark": {"type": "rule", "color": "#b0b0b0", "strokeWidth": 1, "strokeDash": [3,3]},
          "encoding": {
            "x": {"field": "g", "type": "quantitative",
              "scale": {"domain": [-1, 308], "nice": false, "zero": false},
              "axis": {"orient": "bottom", "values": [48,64,80,96,112,128,144,160,176,192,208,224,240,256],
                "grid": false, "ticks": false, "domain": false, "title": null,
                "labelAlign": "left", "labelBaseline": "top", "labelPadding": 2, "labelFont": "Liberation Sans", "labelFontSize": 9.5, "labelColor": "black",
                "labelOverlap": false, "labelBound": false, "labelFlush": false,
                "labelExpr": "['31 Jul 14:20','31 Jul 15:40','31 Jul 17:00','31 Jul 18:20','31 Jul 19:40','31 Jul 21:00','31 Jul 22:20','31 Jul 23:40','3 Aug 01:10','3 Aug 02:30','3 Aug 03:50','3 Aug 05:10','3 Aug 06:35','3 Aug 07:55'][datum.value / 16 - 3]"}}
          }
        },
        {
          "data": {"name": "candles"},
          "transform": [{"window": [{"op": "lag", "field": "v", "as": "pv"}], "sort": [{"field": "i", "order": "ascending"}]}],
          "mark": {"type": "bar", "size": 3},
          "encoding": {
            "x": {"field": "i", "type": "quantitative"},
            "y": {"field": "v", "type": "quantitative",
              "scale": {"domain": [-1.27, 186.9], "nice": false, "zero": false},
              "axis": {"orient": "right", "values": [0, 178], "grid": false, "domain": false, "ticks": false, "title": null,
                "labelFont": "Liberation Sans", "labelFontSize": 9.5, "labelColor": "black", "labelPadding": 6, "labelOffset": -5}},
            "y2": {"datum": 0},
            "color": {"condition": {"test": "datum.pv == null || datum.v > datum.pv", "value": "#008000"}, "value": "#ff0000"}
          }
        },
        {
          "data": {"name": "separator"},
          "mark": {"type": "rule", "color": "black", "strokeWidth": 1, "strokeDash": [3,3]},
          "encoding": {"x": {"field": "i", "type": "quantitative"}}
        },
        {
          "data": {"values": [{"x0": -1, "x1": 44, "y0": 34, "y1": -28}]},
          "mark": {"type": "rect", "color": "#5a5a5a", "clip": false},
          "encoding": {
            "x": {"field": "x0", "type": "quantitative"},
            "x2": {"field": "x1"},
            "y": {"field": "y0", "type": "quantitative"},
            "y2": {"field": "y1"}
          }
        },
        {
          "data": {"values": [{"x": 4, "y": 6.4}]},
          "mark": {"type": "point", "shape": "circle", "filled": false, "color": "#e8e8e8", "size": 700, "strokeWidth": 6, "strokeDash": [4,3]},
          "encoding": {
            "x": {"field": "x", "type": "quantitative"},
            "y": {"field": "y", "type": "quantitative"}
          }
        },
        {
          "data": {"values": [{"x": 4, "y": 6.4}]},
          "mark": {"type": "point", "shape": "circle", "filled": false, "color": "#e8e8e8", "size": 330, "strokeWidth": 4},
          "encoding": {
            "x": {"field": "x", "type": "quantitative"},
            "y": {"field": "y", "type": "quantitative"}
          }
        },
        {
          "data": {"values": [{"x": 4, "y": 12.5}]},
          "mark": {"type": "point", "shape": "circle", "filled": true, "color": "#e8e8e8", "size": 30, "opacity": 1},
          "encoding": {
            "x": {"field": "x", "type": "quantitative"},
            "y": {"field": "y", "type": "quantitative"}
          }
        },
        {
          "data": {"values": [{"x": 4, "y": 8, "y2": -6}]},
          "mark": {"type": "rule", "color": "#e8e8e8", "strokeWidth": 4, "clip": false},
          "encoding": {
            "x": {"field": "x", "type": "quantitative"},
            "y": {"field": "y", "type": "quantitative"},
            "y2": {"field": "y2"}
          }
        },
        {
          "data": {"values": [{"x": 11, "y": -6.4, "t": "instaforex"}]},
          "mark": {"type": "text", "color": "#e6e6e6", "font": "Lato", "fontSize": 30, "fontWeight": 300, "align": "left", "baseline": "alphabetic"},
          "encoding": {
            "x": {"field": "x", "type": "quantitative"},
            "y": {"field": "y", "type": "quantitative"},
            "text": {"field": "t"}
          }
        },
        {
          "data": {"values": [{"x": 11, "y": -20.5, "t": "Instant Forex Trading"}]},
          "mark": {"type": "text", "color": "#dcdcdc", "font": "Lato", "fontSize": 11.5, "align": "left", "baseline": "alphabetic"},
          "encoding": {
            "x": {"field": "x", "type": "quantitative"},
            "y": {"field": "y", "type": "quantitative"},
            "text": {"field": "t"}
          }
        }
      ]
    }
  ]
}
